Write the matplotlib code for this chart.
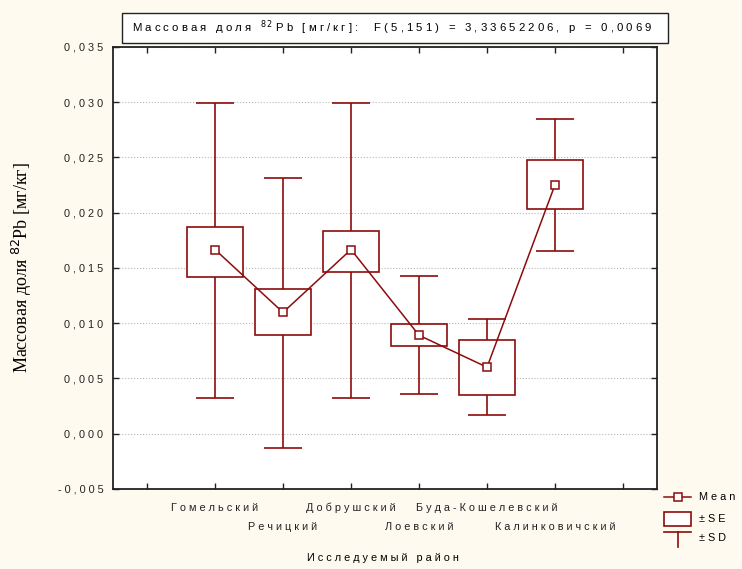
import numpy as np
import matplotlib.pyplot as plt
from matplotlib.patches import Rectangle
from matplotlib.lines import Line2D

# районы и значения (массовая доля 82Pb, мг/кг)
districts = ['Гомельский', 'Речицкий', 'Добрушский', 'Лоевский',
             'Буда-Кошелевский', 'Калинковичский']
means = [0.01667, 0.01098, 0.01667, 0.00891, 0.00602, 0.02254]
se_hi = [0.01875, 0.01306, 0.01839, 0.00990, 0.00845, 0.02480]
se_lo = [0.01423, 0.00891, 0.01468, 0.00790, 0.00349, 0.02030]
sd_hi = [0.02990, 0.02317, 0.02990, 0.01432, 0.01035, 0.02850]
sd_lo = [0.00322, -0.00130, 0.00320, 0.00358, 0.00168, 0.01658]
yticks = [-0.005, 0.0, 0.005, 0.010, 0.015, 0.020, 0.025, 0.030, 0.035]

title = 'Массовая доля $^{8\\,2}$Pb [мг/кг]:  F(5,151) = 3,33652206, p = 0,0069'

red = '#8c0c0c'
bg = '#fffaef'
narrow = ['Liberation Sans', 'DejaVu Sans']
fs = 7.8


def spaced(s):
    # разрядка букв, как в оригинале
    out = []
    i = 0
    while i < len(s):
        if s[i] == '$':
            j = s.index('$', i + 1)
            out.append(s[i:j + 1])
            i = j + 1
        else:
            out.append(s[i])
            i += 1
    return ' '.join(out)


fig = plt.figure(figsize=(7.42, 5.69), dpi=100, facecolor=bg)
ax = fig.add_axes([0.1523, 0.1406, 0.7332, 0.7768])
ax.set_facecolor('white')

x = np.arange(1, len(districts) + 1)
m = np.array(means)

# ±SD
ax.errorbar(x, m, yerr=[m - np.array(sd_lo), np.array(sd_hi) - m], fmt='none',
            ecolor=red, elinewidth=1.2, capsize=13.7, capthick=1.2, zorder=2)
# ±SE
ax.bar(x, np.array(se_hi) - np.array(se_lo), bottom=se_lo, width=0.81,
       facecolor='white', edgecolor=red, linewidth=1.2, zorder=3)
# Mean
ax.plot(x, m, color=red, lw=1.1, zorder=4)
ax.plot(x, m, ls='none', marker='s', ms=6, mfc='white', mec=red, mew=1.1, zorder=5)

ax.set_xlim(-0.5, 7.5)
ax.set_ylim(-0.005, 0.035)
ax.set_yticks(yticks)
ax.set_yticklabels([spaced(f'{v:.3f}'.replace('.', ',')) for v in yticks],
                   family=narrow, fontsize=fs)

# подписи районов в два ряда: нечётные — основные метки, чётные — дополнительные
row1 = [0] + list(x[0::2]) + [7]
row2 = list(x[1::2])
ax.set_xticks(row1)
ax.set_xticklabels([''] + [spaced(d) for d in districts[0::2]] + [''],
                   family=narrow, fontsize=fs)
ax.set_xticks(row2, minor=True)
ax.set_xticklabels([spaced(d) for d in districts[1::2]], minor=True,
                   family=narrow, fontsize=fs)
ax.tick_params(which='both', direction='in', length=4, width=1, top=True, right=True,
               colors='#222222', labelcolor='#222222')
ax.tick_params(axis='x', which='major', pad=10)
ax.tick_params(axis='x', which='minor', pad=24)
ax.tick_params(axis='y', pad=7)
ax.grid(axis='y', ls=':', color='#b8b8b8', lw=0.8)
ax.set_axisbelow(True)
for sp in ax.spines.values():
    sp.set_linewidth(1.3)
    sp.set_color('#222222')

ax.set_ylabel('Массовая доля $^{82}$Pb [мг/кг]', family='Liberation Serif',
              fontsize=13)
ax.yaxis.set_label_coords(-0.145, 0.5)
fig.text(0.516, 0.019, spaced('Исследуемый район'), family=narrow,
         fontsize=fs, ha='center', va='center')

# рамка с заголовком
fig.patches.append(Rectangle((0.1644, 0.9244), 0.736, 0.0528, transform=fig.transFigure,
                             facecolor='white', edgecolor='#222222', lw=1.0))
fig.text(0.178, 0.951, spaced(title), family=narrow, fontsize=8.2, va='center')


# легенда
def fx(px):
    return px / 742


def fy(py):
    return 1 - py / 569


fig.lines.append(Line2D([fx(664), fx(691)], [fy(497), fy(497)], color=red, lw=1.1,
                        transform=fig.transFigure))
fig.lines.append(Line2D([fx(677.5)], [fy(497)], ls='none', marker='s', ms=6, mfc='white',
                        mec=red, mew=1.1, transform=fig.transFigure))
fig.patches.append(Rectangle((fx(664), fy(526)), fx(27), 14 / 569, transform=fig.transFigure,
                             facecolor='white', edgecolor=red, lw=1.2))
fig.lines.append(Line2D([fx(664), fx(691)], [fy(532), fy(532)], color=red, lw=1.2,
                        transform=fig.transFigure))
fig.lines.append(Line2D([fx(677.5), fx(677.5)], [fy(532), fy(547)], color=red, lw=1.2,
                        transform=fig.transFigure))
for lab, py in [('Mean', 497), ('±SE', 519), ('±SD', 538)]:
    fig.text(fx(699), fy(py), spaced(lab), family=narrow, fontsize=fs, va='center')

fig.savefig('out.png', dpi=100, facecolor=bg)
